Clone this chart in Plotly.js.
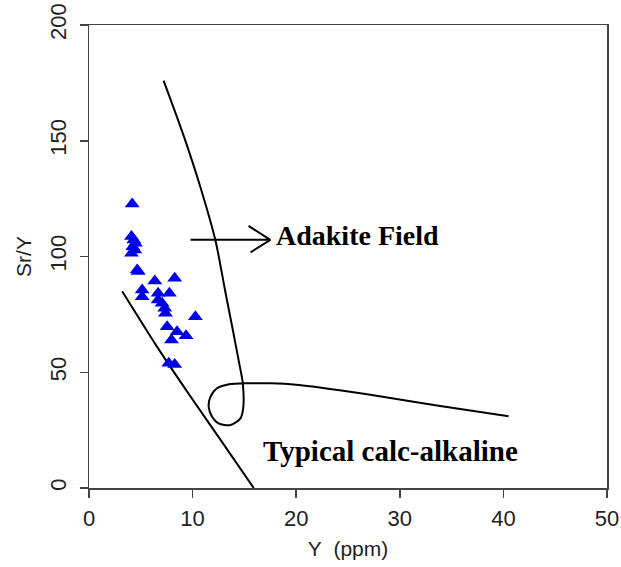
<!DOCTYPE html>
<html>
<head>
<meta charset="utf-8">
<script src="https://cdn.plot.ly/plotly-3.0.1.min.js"></script>
<style>html,body{margin:0;padding:0;background:#fff;}#chart{width:621px;height:567px;}</style>
</head>
<body>
<div id="chart"></div>
<script>
// Sample data: Y (ppm) vs Sr/Y
const sampleY = [4.17, 4.10, 4.32, 4.48, 4.23, 4.42, 4.10, 4.65, 4.75, 6.35, 8.27, 5.13, 5.13, 6.67, 7.76, 6.67, 7.06, 7.31, 7.38, 10.27, 7.54, 8.50, 9.37, 7.96, 7.70, 8.27];
const sampleSrY = [122.7, 108.6, 107.1, 105.7, 104.2, 102.8, 101.4, 94.2, 93.5, 89.4, 90.6, 85.5, 82.6, 84.1, 84.1, 81.2, 79.8, 77.6, 75.5, 74.0, 69.7, 67.5, 65.8, 63.9, 53.9, 53.4];

// Field boundaries
const adakiteX = [7.2, 9.15, 10.75, 12.2, 13.15, 13.85, 14.45, 14.85, 14.87, 14.6, 13.65, 12.5, 11.88, 11.55, 11.72, 12.36, 13.65, 14.87, 17.5, 20.0, 24.2, 29.1, 33.9, 40.5];
const adakiteSrY = [176, 152, 130, 107, 85, 69, 55, 45, 34, 30, 27.2, 27.9, 30.8, 35.1, 39.4, 43.1, 44.9, 45.2, 45.2, 44.6, 42.2, 38.9, 35.4, 31.0];

const calcX = [3.2, 6.5, 9.8, 12.9, 15.9];
const calcSrY = [85, 61.5, 39.5, 19.5, 0];

// Arrow (shaft then open head)
const arrowX = [9.8, 17.5, 15.4, null, 17.5, 15.6];
const arrowSrY = [107.2, 107.2, 113.2, null, 107.2, 101.8];

const xTicks = [0, 10, 20, 30, 40, 50];
const yTicks = [0, 50, 100, 150, 200];

const traces = [
  {x: adakiteX, y: adakiteSrY, mode: 'lines', line: {color: '#000', width: 2, shape: 'spline', smoothing: 0.8}, hoverinfo: 'skip', showlegend: false},
  {x: calcX, y: calcSrY, mode: 'lines', line: {color: '#000', width: 2, shape: 'spline', smoothing: 0.6}, hoverinfo: 'skip', showlegend: false},
  {x: arrowX, y: arrowSrY, mode: 'lines', line: {color: '#000', width: 2}, hoverinfo: 'skip', showlegend: false},
  {x: sampleY, y: sampleSrY, mode: 'markers', marker: {symbol: 'triangle-up', size: 13, color: 'rgb(0,0,230)', line: {width: 0}}, showlegend: false}
];

const layout = {
  width: 621, height: 567,
  margin: {l: 89, r: 14, t: 25, b: 79},
  paper_bgcolor: '#fff', plot_bgcolor: '#fff',
  font: {family: '"Liberation Sans", Arial, sans-serif', size: 22, color: '#222'},
  xaxis: {
    range: [0, 50], tickvals: xTicks, ticktext: xTicks.map(String),
    showgrid: false, zeroline: false, showline: true, mirror: true,
    linecolor: '#444', linewidth: 1.5, ticks: 'outside', ticklen: 8, tickcolor: '#444', tickwidth: 1.5,
    ticklabelstandoff: 2,
    title: {text: 'Y\u00a0\u00a0(ppm)', font: {size: 21}, standoff: 11}
  },
  yaxis: {
    range: [0, 200], tickvals: yTicks, ticktext: yTicks.map(String), tickangle: -90,
    showgrid: false, zeroline: false, showline: true, mirror: true,
    linecolor: '#444', linewidth: 1.5, ticks: 'outside', ticklen: 8, tickcolor: '#444', tickwidth: 1.5,
    ticklabelstandoff: 5,
    title: {text: 'Sr/Y', font: {size: 21}, standoff: 8}
  },
  annotations: [
    {x: 17.9, y: 109, xref: 'x', yref: 'y', xanchor: 'left', yanchor: 'middle', showarrow: false,
     text: '<b>Adakite Field</b>', font: {family: '"Liberation Serif", "Times New Roman", serif', size: 28, color: '#000'}},
    {x: 16.6, y: 16, xref: 'x', yref: 'y', xanchor: 'left', yanchor: 'middle', showarrow: false,
     text: '<b>Typical calc-alkaline</b>', font: {family: '"Liberation Serif", "Times New Roman", serif', size: 29, color: '#000'}}
  ]
};

Plotly.newPlot('chart', traces, layout, {staticPlot: true, displayModeBar: false});
</script>
</body>
</html>
